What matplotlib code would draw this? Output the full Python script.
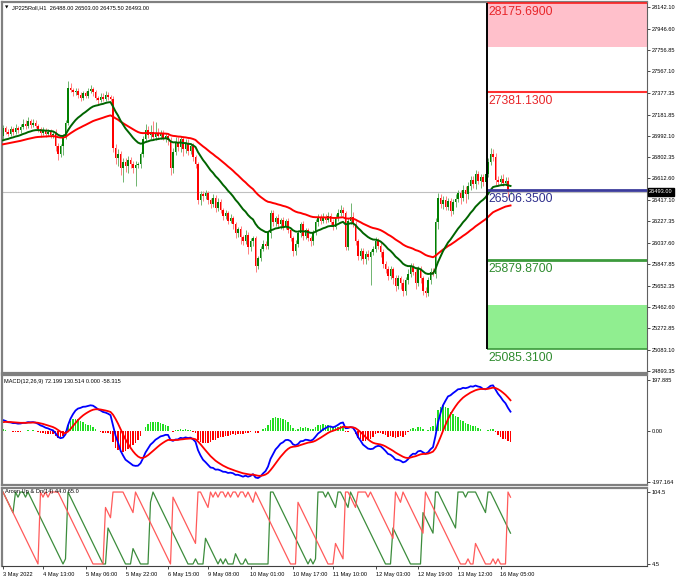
import matplotlib
matplotlib.use("Agg")
import matplotlib.pyplot as plt
import matplotlib.transforms as mtransforms
from matplotlib.patches import Rectangle

plt.rcParams['font.family'] = ['Liberation Sans', 'DejaVu Sans']

# ---------------- data ----------------
first_open = 26990
closes = [
    27060, 27030, 27010, 27050, 27030, 27060, 27040, 27070, 27100, 27080,
    27120, 27090, 27110, 27080, 27050, 27020, 27040, 27010, 27030, 27000,
    27010, 26900, 26830, 26900, 26980, 27110, 27420, 27400, 27380, 27390,
    27360, 27330, 27370, 27350, 27390, 27410, 27380, 27330, 27310, 27340,
    27320, 27360, 27340, 27320, 26880, 26790, 26830, 26700, 26760, 26720,
    26780, 26740, 26700, 26730, 26740, 26830, 26960, 27040, 27000, 27030,
    26980, 27020, 26990, 27010, 26970, 26990, 26950, 26700, 26850, 26940,
    26890, 26960, 26870, 26930, 26860, 26900, 26800, 26740, 26420, 26470,
    26450, 26480, 26420, 26380, 26440, 26350, 26400, 26330, 26280, 26300,
    26230, 26260, 26200, 26120, 26160, 26090, 26050, 26110, 26000, 26050,
    26080, 25830, 25900, 25980, 26030, 26010, 26120, 26300, 26220, 26260,
    26200, 26240, 26180, 26230, 26150, 26080, 25960, 26030, 26120, 26200,
    26100, 26150, 26080, 26050, 26130, 26220, 26260, 26230, 26270, 26240,
    26280, 26220, 26180, 26260, 26300, 26330, 26300, 26000, 26230, 26270,
    26200, 26050, 25920, 25960, 25890, 25940, 25910, 25950, 25980, 26050,
    26010, 25950, 25850, 25800, 25740, 25800, 25720, 25650, 25720, 25680,
    25610, 25700, 25760, 25830, 25780, 25680, 25800, 25720, 25610, 25590,
    25700, 25780, 25760, 26220, 26440, 26380, 26420, 26360, 26410, 26320,
    26400, 26430, 26480, 26440, 26510, 26470, 26540, 26600, 26560, 26650,
    26590, 26620, 26580, 26650, 26760, 26830, 26800, 26600, 26580, 26610,
    26570, 26590, 26488, 26493,
]
wick_up = [
    30, 20, 25, 30, 20, 40, 20, 30, 45, 30,
    40, 20, 35, 25, 20, 20, 30, 20, 20, 25,
    20, 40, 30, 20, 30, 20, 60, 40, 20, 30,
    30, 20, 25, 20, 30, 40, 20, 20, 20, 30,
    30, 30, 20, 20, 30, 40, 40, 30, 30, 30,
    30, 20, 30, 40, 20, 20, 30, 60, 40, 60,
    90, 95, 40, 30, 30, 30, 20, 30, 30, 40,
    40, 30, 30, 30, 30, 30, 30, 20, 20, 30,
    30, 30, 20, 20, 30, 20, 40, 30, 20, 30,
    20, 30, 20, 20, 20, 30, 20, 40, 20, 30,
    20, 20, 20, 30, 30, 20, 20, 30, 30, 20,
    30, 20, 30, 20, 30, 20, 20, 30, 30, 20,
    30, 20, 20, 20, 20, 30, 30, 30, 30, 20,
    30, 20, 30, 30, 40, 40, 30, 20, 30, 120,
    40, 30, 20, 30, 30, 20, 30, 20, 30, 40,
    30, 30, 30, 20, 30, 30, 20, 30, 30, 20,
    30, 30, 40, 30, 30, 30, 30, 30, 20, 30,
    30, 30, 30, 40, 40, 30, 30, 30, 30, 30,
    30, 40, 30, 30, 40, 30, 40, 30, 30, 40,
    30, 30, 30, 30, 30, 50, 40, 40, 30, 30,
    40, 30, 30, 10,
]
wick_dn = [
    30, 25, 20, 20, 30, 20, 25, 20, 20, 25,
    20, 30, 20, 20, 25, 40, 20, 30, 20, 25,
    30, 40, 50, 30, 80, 20, 20, 20, 30, 20,
    30, 30, 20, 20, 20, 20, 30, 20, 30, 20,
    20, 20, 30, 20, 30, 50, 70, 60, 120, 50,
    60, 40, 40, 160, 30, 40, 30, 20, 30, 40,
    20, 30, 20, 30, 20, 30, 40, 60, 40, 30,
    30, 40, 60, 30, 40, 30, 30, 40, 40, 50,
    40, 20, 40, 30, 20, 40, 30, 30, 40, 30,
    30, 20, 40, 40, 30, 60, 30, 20, 60, 40,
    40, 50, 30, 30, 20, 30, 30, 40, 30, 30,
    30, 40, 30, 20, 30, 30, 40, 30, 30, 30,
    40, 30, 30, 40, 30, 20, 30, 30, 20, 30,
    20, 30, 30, 20, 30, 20, 20, 30, 30, 30,
    20, 30, 40, 40, 40, 40, 30, 250, 20, 30,
    30, 40, 40, 30, 40, 30, 50, 40, 30, 60,
    50, 40, 30, 30, 30, 60, 30, 40, 40, 40,
    30, 30, 20, 40, 60, 30, 40, 30, 30, 40,
    30, 40, 30, 60, 30, 80, 40, 30, 30, 40,
    30, 60, 40, 30, 30, 30, 30, 50, 30, 30,
    30, 20, 40, 12.5,
]

# moving averages / indicator starting states read at the left edge
ma_fast_period, ma_fast_start = 20, 26940
ma_slow_period, ma_slow_start = 50, 26910
macd_fast_start, macd_slow_start, macd_signal_start = 27030, 26987, 32
aroon_period = 14

price_ticks = [28142.10, 27946.60, 27756.85, 27567.10, 27377.35, 27181.85,
               26992.10, 26802.35, 26612.60, 26417.10, 26227.35, 26037.60,
               25847.85, 25652.35, 25462.60, 25272.85, 25083.10, 24893.35]
last_price = 26493.00
macd_ticks = [197.885, 0.0, -197.164]
aroon_ticks = [100, 0]
aroon_tick_labels = ["104.5", "4.5"]

time_tick_bars = [0, 16, 33, 49, 66, 82, 99, 116, 132, 149, 166, 182, 199]
time_tick_labels = ["3 May 2022", "4 May 13:00", "5 May 06:00", "5 May 22:00",
                    "6 May 15:00", "9 May 08:00", "10 May 01:00", "10 May 17:00",
                    "11 May 10:00", "12 May 03:00", "12 May 19:00", "13 May 12:00",
                    "16 May 05:00"]

# drawn objects (levels)
level_bar = 193.6
sell_zone = (27785, 28175.69)
tp_level = 27381.13
entry_level = 26506.35
sl_level = 25879.87
buy_zone = (25085.31, 25480)

# ---------------- derived ----------------
n = len(closes)
opens = [first_open] + closes[:-1]
highs = [max(o, c) + w for o, c, w in zip(opens, closes, wick_up)]
lows = [min(o, c) - w for o, c, w in zip(opens, closes, wick_dn)]
idx = list(range(n))


def ema(vals, period, start):
    a = 2.0 / (period + 1)
    out, e = [], start
    for v in vals:
        e = e + a * (v - e)
        out.append(e)
    return out


ma_fast = ema(closes, ma_fast_period, ma_fast_start)
ma_slow = ema(closes, ma_slow_period, ma_slow_start)
e12 = ema(closes, 12, macd_fast_start)
e26 = ema(closes, 26, macd_slow_start)
macd = [a - b for a, b in zip(e12, e26)]
signal = ema(macd, 9, macd_signal_start)
hist = [m - s for m, s in zip(macd, signal)]

aroon_up, aroon_dn = [], []
for i in range(n):
    lo = max(0, i - aroon_period)
    wh = highs[lo:i + 1]
    wl = lows[lo:i + 1]
    ih = lo + max(range(len(wh)), key=lambda k: (wh[k], k))
    il = lo + min(range(len(wl)), key=lambda k: (wl[k], -k))
    aroon_up.append(100.0 * (aroon_period - (i - ih)) / aroon_period)
    aroon_dn.append(100.0 * (aroon_period - (i - il)) / aroon_period)

# ---------------- figure ----------------
W, H = 680, 581
fig = plt.figure(figsize=(W / 100, H / 100), dpi=100)


def box(x0, y0, x1, y1):
    return [x0 / W, 1 - y1 / H, (x1 - x0) / W, (y1 - y0) / H]


ax = fig.add_axes(box(2, 2, 647, 373))
axm = fig.add_axes(box(2, 375, 647, 485))
axa = fig.add_axes(box(2, 488, 647, 566))

XMIN, XMAX = -0.4, 257.6
FS = 4.1
for a in (ax, axm, axa):
    a.set_xlim(XMIN, XMAX)
    a.yaxis.tick_right()
    a.tick_params(axis='y', direction='out', length=2, width=0.5, pad=1.5,
                  labelsize=FS, colors='#000000')
    for s in ('left', 'top', 'bottom'):
        a.spines[s].set_color('#808080')
        a.spines[s].set_linewidth(1.6)
    a.spines['right'].set_color('#606060')
    a.spines['right'].set_linewidth(0.8)
ax.set_xticks([])
axm.set_xticks([])

# main panel
ax.set_ylim(24873.7, 28186.8)
ax.set_yticks(price_ticks)
ax.set_yticklabels([f"{t:.2f}" for t in price_ticks])

ax.add_patch(Rectangle((level_bar, sell_zone[0]), XMAX - level_bar,
                       sell_zone[1] - sell_zone[0], facecolor='#FFC0CB',
                       edgecolor='none', zorder=0))
ax.add_patch(Rectangle((level_bar, buy_zone[0]), XMAX - level_bar,
                       buy_zone[1] - buy_zone[0], facecolor='#90EE90',
                       edgecolor='none', zorder=0))
ax.axhline(last_price, color='#C0C0C0', lw=0.8, zorder=0.5)

up_c, dn_c = '#008000', '#FF0000'
colors = [up_c if c >= o else dn_c for o, c in zip(opens, closes)]
wick_colors = ['#6FB46F' if c >= o else '#FF8080' for o, c in zip(opens, closes)]
ax.vlines(idx, lows, highs, colors=wick_colors, lw=0.7, zorder=2)
body_h = [max(abs(c - o), 6) for o, c in zip(opens, closes)]
body_b = [min(o, c) for o, c in zip(opens, closes)]
ax.bar(idx, body_h, bottom=body_b, width=0.62, color=colors, lw=0, zorder=2.5)

ax.plot(idx, ma_slow, color='#FF0000', lw=1.4, zorder=3)
ax.plot(idx, ma_fast, color='#006400', lw=1.4, zorder=3)

ax.hlines(sell_zone[1], level_bar, XMAX, color='#FF2020', lw=1.2, zorder=3)
ax.hlines(tp_level, level_bar, XMAX, color='#FF3030', lw=1.5, zorder=3)
ax.hlines(entry_level, level_bar, XMAX, color='#3C3C9C', lw=2.0, zorder=3.5)
ax.hlines(sl_level, level_bar, XMAX, color='#3C9A3C', lw=2.0, zorder=3)
ax.hlines(buy_zone[0], level_bar, XMAX, color='#3C9A3C', lw=1.2, zorder=3)
ax.vlines(level_bar, buy_zone[0], sell_zone[1], color='#000000', lw=1.4, zorder=4)

lbl_fs = 8.7
for val, col in [(sell_zone[1], '#E8262A'), (tp_level, '#E8262A'),
                 (entry_level, '#2E2E8C'), (sl_level, '#2E8B2E'),
                 (buy_zone[0], '#2E8B2E')]:
    ax.annotate(f"{val:.4f}", xy=(level_bar, val), xytext=(0.8, -2.0),
                textcoords='offset points', ha='left', va='top',
                fontsize=lbl_fs, color=col, zorder=5)

trans = mtransforms.blended_transform_factory(ax.transAxes, ax.transData)
ax.text(1.003, last_price, "26493.00", transform=trans, ha='left', va='center',
        fontsize=FS, color='white', zorder=6, clip_on=False,
        bbox=dict(boxstyle='square,pad=0.25', fc='black', ec='black'))

fig.text(5 / W, 1 - 7.5 / H, "\u25bc", fontsize=3.2, ha='left', va='center',
         family=['DejaVu Sans'])
fig.text(12 / W, 1 - 7.5 / H,
         "JP225Roll,H1  26488.00 26503.00 26475.50 26493.00",
         fontsize=FS, ha='left', va='center')

# MACD panel
axm.set_ylim(-210, 217)
axm.set_yticks(macd_ticks)
axm.set_yticklabels(["197.885", "0.00", "-197.164"])
hist_col = ['#22DD22' if h >= 0 else '#FF0000' for h in hist]
axm.bar(idx, hist, width=0.6, color=hist_col, lw=0, zorder=1)
axm.plot(idx, macd, color='#0000FF', lw=1.3, zorder=2)
axm.plot(idx, signal, color='#FF0000', lw=1.3, zorder=2)
fig.text(4 / W, 1 - 381 / H, "MACD(12,26,9) 72.199 130.514 0.000 -58.315",
         fontsize=FS, ha='left', va='center')

# Aroon panel
axa.set_ylim(-2.8, 105.6)
axa.set_yticks(aroon_ticks)
axa.set_yticklabels(aroon_tick_labels)
axa.plot(idx, aroon_up, color='#3C8C3C', lw=0.9, zorder=2)
axa.plot(idx, aroon_dn, color='#FF5A5A', lw=0.9, zorder=2)
fig.text(5 / W, 1 - 492 / H, "Aroon Up & Dn(14) 44.0 65.0",
         fontsize=FS, ha='left', va='center', zorder=5)

axa.set_xticks(time_tick_bars)
axa.set_xticklabels(time_tick_labels)
axa.tick_params(axis='x', direction='out', length=2, width=0.5, pad=2,
                labelsize=FS)
for t in axa.get_xticklabels():
    t.set_ha('left')
axa.spines['bottom'].set_color('#404040')
axa.spines['bottom'].set_linewidth(0.8)

fig.savefig("out.png", dpi=100)
